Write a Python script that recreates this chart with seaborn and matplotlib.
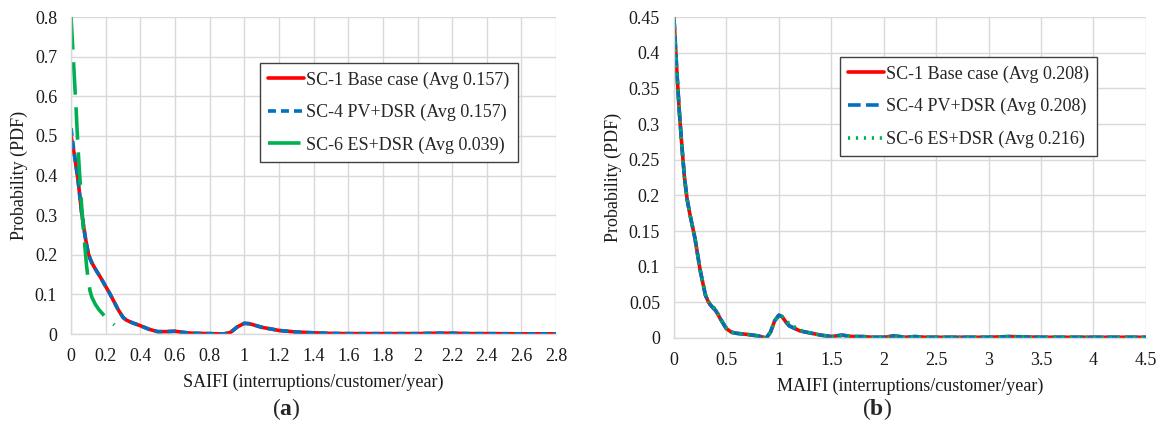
import numpy as np
import pandas as pd
import matplotlib
matplotlib.use("Agg")
import matplotlib.pyplot as plt
import seaborn as sns

# SAIFI curves (panel a)
saifi_x = [0, 0.01, 0.02, 0.03, 0.04, 0.05, 0.06, 0.07, 0.08, 0.09, 0.1, 0.11, 0.12, 0.13, 0.15,
           0.17, 0.2, 0.22, 0.25, 0.27, 0.3, 0.32, 0.35, 0.4, 0.45, 0.5, 0.55, 0.6, 0.65, 0.7,
           0.8, 0.88, 0.92, 0.96, 1.0, 1.03, 1.07, 1.1, 1.2, 1.3, 1.4, 1.5, 1.6,
           1.8, 2.0, 2.1, 2.2, 2.3, 2.4, 2.6, 2.8]
saifi_sc1 = [0.50, 0.475, 0.45, 0.42, 0.39, 0.35, 0.31, 0.28, 0.25, 0.225, 0.203, 0.19, 0.18, 0.172, 0.157,
             0.143, 0.12, 0.105, 0.08, 0.063, 0.042, 0.035, 0.029, 0.021, 0.012, 0.006, 0.006, 0.007, 0.004, 0.002,
             0.001, 0.0, 0.004, 0.018, 0.027, 0.026, 0.021, 0.017, 0.009, 0.005, 0.003, 0.0015, 0.001,
             0.001, 0.001, 0.002, 0.002, 0.001, 0.001, 0.0005, 0.0005]
saifi_sc4 = [0.52, 0.485, 0.45, 0.42, 0.39, 0.35, 0.31, 0.28, 0.25, 0.225, 0.203, 0.19, 0.18, 0.172, 0.157,
             0.143, 0.12, 0.105, 0.08, 0.063, 0.042, 0.035, 0.029, 0.021, 0.012, 0.006, 0.006, 0.007, 0.004, 0.002,
             0.001, 0.0, 0.004, 0.018, 0.027, 0.026, 0.021, 0.017, 0.009, 0.005, 0.003, 0.0015, 0.001,
             0.001, 0.001, 0.002, 0.002, 0.001, 0.001, 0.0005, 0.0005]
saifi_sc6_x = [0, 0.01, 0.02, 0.03, 0.04, 0.05, 0.06, 0.07, 0.08, 0.09, 0.1, 0.11, 0.12, 0.14, 0.16, 0.2, 0.25]
saifi_sc6 = [0.80, 0.72, 0.64, 0.56, 0.47, 0.40, 0.33, 0.27, 0.22, 0.17, 0.135, 0.108, 0.093, 0.075, 0.062, 0.042, 0.023]

# MAIFI curves (panel b)
maifi_x = [0, 0.025, 0.05, 0.075, 0.1, 0.125, 0.15, 0.2, 0.25, 0.3, 0.33, 0.35, 0.4, 0.45, 0.5, 0.55,
           0.6, 0.7, 0.8, 0.88, 0.92, 0.96, 1.0, 1.03, 1.07, 1.1, 1.2, 1.3, 1.4, 1.5, 1.6, 1.7,
           1.8, 1.9, 2.0, 2.1, 2.2, 2.3, 2.4, 2.6, 2.8, 3.0, 3.2, 3.5, 4.0, 4.5]
maifi_sc1 = [0.449, 0.38, 0.32, 0.27, 0.225, 0.195, 0.175, 0.14, 0.095, 0.06, 0.05, 0.046, 0.038, 0.025, 0.013, 0.008,
             0.0065, 0.005, 0.003, 0.0, 0.008, 0.024, 0.032, 0.030, 0.022, 0.017, 0.010, 0.007, 0.004, 0.002, 0.004, 0.002,
             0.002, 0.001, 0.001, 0.003, 0.001, 0.002, 0.001, 0.001, 0.001, 0.001, 0.002, 0.001, 0.001, 0.001]
maifi_sc4 = [0.449, 0.38, 0.32, 0.27, 0.225, 0.195, 0.175, 0.14, 0.095, 0.06, 0.05, 0.046, 0.038, 0.025, 0.013, 0.008,
             0.0065, 0.005, 0.003, 0.0, 0.008, 0.024, 0.032, 0.030, 0.022, 0.017, 0.010, 0.007, 0.004, 0.002, 0.004, 0.002,
             0.002, 0.001, 0.001, 0.003, 0.001, 0.002, 0.001, 0.001, 0.001, 0.001, 0.002, 0.001, 0.001, 0.001]
maifi_sc6 = [0.449, 0.38, 0.32, 0.27, 0.225, 0.195, 0.175, 0.14, 0.095, 0.061, 0.051, 0.047, 0.040, 0.026, 0.014, 0.008,
             0.0065, 0.005, 0.003, 0.0, 0.008, 0.024, 0.031, 0.030, 0.024, 0.020, 0.011, 0.007, 0.004, 0.002, 0.003, 0.002,
             0.002, 0.001, 0.001, 0.003, 0.001, 0.002, 0.001, 0.001, 0.001, 0.001, 0.002, 0.001, 0.001, 0.001]

saifi_labels = ["SC-1 Base case (Avg 0.157)", "SC-4 PV+DSR (Avg 0.157)", "SC-6 ES+DSR (Avg 0.039)"]
maifi_labels = ["SC-1 Base case (Avg 0.208)", "SC-4 PV+DSR (Avg 0.208)", "SC-6 ES+DSR (Avg 0.216)"]

RED = "#ff0000"
BLUE = "#0070c0"
GREEN = "#00b050"

sns.set_style("white")
plt.rcParams["font.family"] = ["Liberation Serif", "DejaVu Serif"]
plt.rcParams["mathtext.fontset"] = "custom"
plt.rcParams["mathtext.rm"] = "Liberation Serif"
plt.rcParams["mathtext.bf"] = "Liberation Serif:bold"

fig = plt.figure(figsize=(11.61, 4.28), dpi=100)
ax1 = fig.add_axes([0.0612, 0.2196, 0.4178, 0.7404])
ax2 = fig.add_axes([0.5805, 0.2103, 0.4065, 0.7497])

lw = 2.6

# panel (a)
sns.lineplot(x=saifi_x, y=saifi_sc1, ax=ax1, color=RED, linewidth=lw, label=saifi_labels[0])
sns.lineplot(x=saifi_x, y=saifi_sc4, ax=ax1, color=BLUE, linewidth=lw,
             linestyle=(0, (2.2, 1.4)), label=saifi_labels[1])
sns.lineplot(x=saifi_sc6_x, y=saifi_sc6, ax=ax1, color=GREEN, linewidth=lw,
             linestyle=(0, (9, 3.5)), label=saifi_labels[2])

# panel (b)
sns.lineplot(x=maifi_x, y=maifi_sc1, ax=ax2, color=RED, linewidth=lw, label=maifi_labels[0])
sns.lineplot(x=maifi_x, y=maifi_sc4, ax=ax2, color=BLUE, linewidth=lw,
             linestyle=(0, (3.5, 1.5)), label=maifi_labels[1])
sns.lineplot(x=maifi_x, y=maifi_sc6, ax=ax2, color=GREEN, linewidth=lw,
             linestyle=(0, (0.6, 1.6)), label=maifi_labels[2])


def style_axis(ax, xmax, xstep, ymax, ystep, xlabel):
    ax.set_xlim(0, xmax)
    ax.set_ylim(0, ymax)
    ax.set_xticks(np.round(np.arange(0, xmax + xstep / 2, xstep), 3))
    ax.set_yticks(np.round(np.arange(0, ymax + ystep / 2, ystep), 3))
    ax.xaxis.set_major_formatter(plt.FuncFormatter(lambda v, p: f"{v:g}"))
    ax.yaxis.set_major_formatter(plt.FuncFormatter(lambda v, p: f"{v:g}"))
    ax.grid(True, color="#d9d9d9", linewidth=1.0)
    ax.set_axisbelow(True)
    for s in ["top", "right"]:
        ax.spines[s].set_visible(False)
    for s in ["left", "bottom"]:
        ax.spines[s].set_color("#d9d9d9")
        ax.spines[s].set_linewidth(1.0)
    ax.tick_params(axis="both", labelsize=13, colors="#d9d9d9", labelcolor="#1a1a1a",
                   length=4, width=1.0, direction="out", pad=6)
    ax.set_xlabel(xlabel, fontsize=13, color="#1a1a1a", labelpad=6)
    ax.set_ylabel("Probability (PDF)", fontsize=13, color="#1a1a1a", labelpad=5)


style_axis(ax1, 2.8, 0.2, 0.8, 0.1, "SAIFI (interruptions/customer/year)")
style_axis(ax2, 4.5, 0.5, 0.45, 0.05, "MAIFI (interruptions/customer/year)")

for ax, anchor in [(ax1, (0.39, 0.855)), (ax2, (0.352, 0.875))]:
    leg = ax.legend(loc="upper left", bbox_to_anchor=anchor, fontsize=13, frameon=True,
                    fancybox=False, edgecolor="#404040", framealpha=1,
                    handlelength=2.0, handletextpad=0.1, labelspacing=0.85,
                    borderpad=0.45, borderaxespad=0)
    leg.get_frame().set_linewidth(1.0)

fig.text(0.247, 0.045, r"($\mathbf{a}$)", fontsize=17, ha="center", va="center")
fig.text(0.755, 0.045, r"($\mathbf{b}$)", fontsize=17, ha="center", va="center")

plt.savefig("out.png", dpi=100)
